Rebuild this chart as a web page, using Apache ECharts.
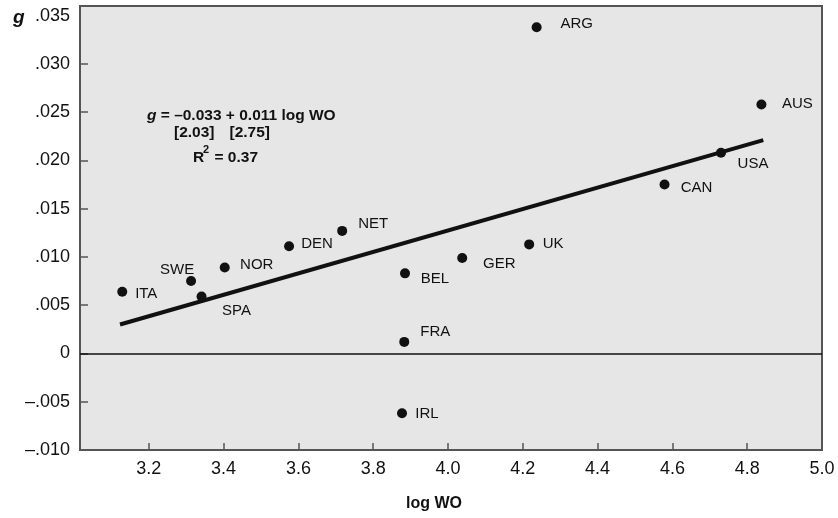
<!DOCTYPE html>
<html>
<head>
<meta charset="utf-8">
<script src="https://cdn.jsdelivr.net/npm/echarts@6/dist/echarts.min.js"></script>
<style>
html,body{margin:0;padding:0;background:#fff;}
#chart{width:838px;height:518px;}
</style>
</head>
<body>
<div id="chart"></div>
<script>
// ---- data ----
const countries = ['ARG','AUS','USA','CAN','UK','GER','NET','DEN','NOR','SWE','ITA','SPA','BEL','FRA','IRL'];
const logWO     = [4.237, 4.838, 4.730, 4.579, 4.217, 4.038, 3.717, 3.575, 3.403, 3.313, 3.129, 3.341, 3.885, 3.883, 3.877];
const gValues   = [0.0338, 0.0258, 0.0208, 0.0175, 0.0113, 0.0099, 0.0127, 0.0111, 0.0089, 0.0075, 0.0064, 0.0059, 0.0083, 0.0012, -0.0062];
const fitX      = [3.123, 4.843];
const fitY      = [0.0030, 0.0221];
const xTicks    = [3.2, 3.4, 3.6, 3.8, 4.0, 4.2, 4.4, 4.6, 4.8, 5.0];
const yTicks    = [-0.010, -0.005, 0, 0.005, 0.010, 0.015, 0.020, 0.025, 0.030, 0.035];

// ---- label layout (offset of label centre from the point, px) ----
const labelOffset = {
  ARG:[40,-3], AUS:[36,-1], USA:[32,11], CAN:[32,3], UK:[24,-1], GER:[37,6],
  NET:[31,-7], DEN:[28,-2], NOR:[32,-3], SWE:[-14,-11], ITA:[24,2], SPA:[35,14],
  BEL:[30,5], FRA:[31,-10], IRL:[25,1]
};

const FONT = '"Liberation Sans", Arial, Helvetica, sans-serif';
const AX = '#555';
const TXT = '#111';

const pts = countries.map((c, i) => ({
  name: c,
  value: [logWO[i], gValues[i]],
  label: { offset: labelOffset[c] }
}));

function fmtY(v) {
  if (Math.abs(v) < 1e-12) return '0';
  return (v < 0 ? '\u2013' : '') + Math.abs(v).toFixed(3).replace(/^0/, '');
}

const chart = echarts.init(document.getElementById('chart'), null, { renderer: 'canvas' });
chart.setOption({
  animation: false,
  backgroundColor: '#ffffff',
  grid: {
    left: 80, right: 16, top: 6, bottom: 68,
    show: true, backgroundColor: '#e6e6e6', borderColor: AX, borderWidth: 2
  },
  xAxis: {
    type: 'value', min: 3.016, max: 5.0,
    name: 'log WO', nameLocation: 'middle', nameGap: 46,
    nameTextStyle: { fontFamily: FONT, fontWeight: 'bold', fontSize: 16, color: TXT, padding: [0, 34, 0, 0] },
    axisLine: { show: true, onZero: false, lineStyle: { color: AX, width: 2 } },
    axisTick: { show: true, inside: true, length: 7, customValues: xTicks.slice(0, -1), lineStyle: { color: AX, width: 1.5 } },
    axisLabel: { customValues: xTicks, margin: 10, fontFamily: FONT, fontSize: 18, color: TXT, formatter: v => v.toFixed(1) },
    splitLine: { show: false }
  },
  yAxis: {
    type: 'value', min: -0.010, max: 0.036,
    axisLine: { show: true, onZero: false, lineStyle: { color: AX, width: 2 } },
    axisTick: { show: true, inside: true, length: 8, customValues: yTicks.slice(1, -1), lineStyle: { color: AX, width: 1.5 } },
    axisLabel: { customValues: yTicks, margin: 10, fontFamily: FONT, fontSize: 18, color: TXT, formatter: fmtY },
    splitLine: { show: false }
  },
  series: [
    {
      type: 'line',
      data: fitX.map((x, i) => [x, fitY[i]]),
      showSymbol: false,
      lineStyle: { color: '#111', width: 4 },
      silent: true,
      z: 2,
      markLine: {
        silent: true, symbol: 'none',
        label: { show: false },
        lineStyle: { color: '#111', width: 1.5, type: 'solid' },
        data: [{ yAxis: 0 }]
      }
    },
    {
      type: 'scatter',
      data: pts,
      symbol: 'circle',
      symbolSize: 10,
      itemStyle: { color: '#111', opacity: 1 },
      z: 3,
      label: {
        show: true, position: 'inside', formatter: '{b}',
        fontFamily: FONT, fontSize: 15, color: TXT, textBorderWidth: 0, opacity: 1,
        align: 'center', verticalAlign: 'middle'
      }
    }
  ],
  graphic: [
    { type: 'text', left: 13, top: 8, style: { text: 'g', font: 'italic bold 19px ' + FONT, fill: TXT } },
    { type: 'text', x: 147, y: 116, style: {
        text: '{i|g}{b| = \u20130.033 + 0.011 log WO}',
        verticalAlign: 'middle',
        rich: {
          i: { fontFamily: FONT, fontStyle: 'italic', fontWeight: 'bold', fontSize: 15.5, fill: TXT },
          b: { fontFamily: FONT, fontWeight: 'bold', fontSize: 15.5, fill: TXT }
        }
      } },
    { type: 'text', x: 174, y: 133, style: { text: '[2.03]', font: 'bold 15.5px ' + FONT, fill: TXT, verticalAlign: 'middle' } },
    { type: 'text', x: 270, y: 133, style: { text: '[2.75]', font: 'bold 15.5px ' + FONT, fill: TXT, align: 'right', verticalAlign: 'middle' } },
    { type: 'text', x: 193, y: 158, style: { text: 'R', font: 'bold 15.5px ' + FONT, fill: TXT, verticalAlign: 'middle' } },
    { type: 'text', x: 203, y: 150, style: { text: '2', font: 'bold 11px ' + FONT, fill: TXT, verticalAlign: 'middle' } },
    { type: 'text', x: 258, y: 158, style: { text: '= 0.37', font: 'bold 15.5px ' + FONT, fill: TXT, align: 'right', verticalAlign: 'middle' } }
  ]
});
</script>
</body>
</html>
